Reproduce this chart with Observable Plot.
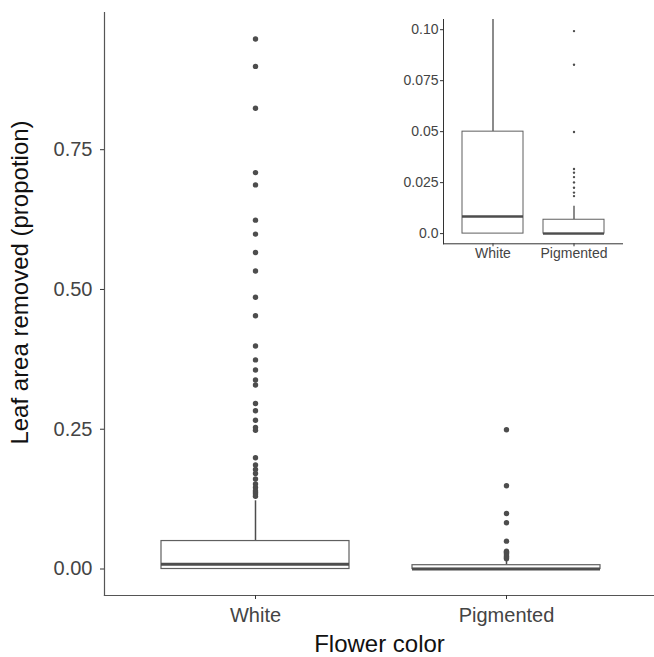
<!DOCTYPE html>
<html><head><meta charset="utf-8">
<script src="https://cdn.jsdelivr.net/npm/d3@7"></script>
<script src="https://cdn.jsdelivr.net/npm/@observablehq/plot@0.6"></script>
<style>
body{margin:0;background:#fff;}
#wrap{position:relative;width:654px;height:657px;overflow:hidden;}
#main,#inset{position:absolute;top:0;}
#main{left:0;}
#inset{left:383px;}
svg{font-family:"Liberation Sans",Arial,sans-serif;}
</style></head><body><div id="wrap"><div id="main"></div><div id="inset"></div></div>
<script>
const categories = ["White", "Pigmented"];
const q1 = [0, 0];
const median = [0.0084, 0];
const q3 = [0.050, 0.0068];
const whiskerLow = [0, 0];
const whiskerHigh = [0.122, 0.0134];
const whiteOutliers = [0.948, 0.899, 0.824, 0.709, 0.687, 0.624, 0.599, 0.566, 0.533, 0.486,
  0.453, 0.399, 0.374, 0.356, 0.338, 0.329, 0.296, 0.283, 0.266, 0.253, 0.248,
  0.199, 0.186, 0.178, 0.171, 0.161, 0.152, 0.146, 0.140, 0.137, 0.134, 0.130];
const pigmentedOutliers = [0.249, 0.149, 0.0993, 0.0828, 0.0498, 0.0317, 0.0299, 0.0277,
  0.0251, 0.0225, 0.0201, 0.0184];
const mainTicks = [0, 0.25, 0.5, 0.75];
const mainTickLabels = ["0.00", "0.25", "0.50", "0.75"];
const insetTicks = [0, 0.025, 0.05, 0.075, 0.1];
const insetTickLabels = ["0.0", "0.025", "0.05", "0.075", "0.10"];
const yTitle = "Leaf area removed (propotion)";
const xTitle = "Flower color";

const boxes = categories.map((c, i) => ({cat: c, q1: q1[i], med: median[i], q3: q3[i], lo: whiskerLow[i], hi: whiskerHigh[i]}));
const outliers = [
  ...whiteOutliers.map(v => ({cat: "White", v})),
  ...pigmentedOutliers.map(v => ({cat: "Pigmented", v}))
];
const allVals = [...whiteOutliers, ...pigmentedOutliers, ...whiskerHigh];
const vmax = d3.max(allVals), vmin = 0;
const pad = (vmax - vmin) * 0.05;

const ink = "#4d4d4d";

function boxMarks(s, clip) {
  return [
    Plot.ruleX(boxes, {x: "cat", y1: "q3", y2: "hi", stroke: ink, strokeWidth: s.whisker, clip}),
    Plot.ruleX(boxes, {x: "cat", y1: "lo", y2: "q1", stroke: ink, strokeWidth: s.whisker, clip}),
    Plot.barY(boxes, {x: "cat", y1: "q1", y2: "q3", fill: "white", stroke: "#5f5f5f", strokeWidth: s.box, clip}),
    Plot.tickY(boxes, {x: "cat", y: "med", stroke: ink, strokeWidth: s.median, clip}),
    Plot.dot(outliers, {x: "cat", y: "v", r: s.r, fill: ink, stroke: "none", clip})
  ];
}

const main = Plot.plot({
  width: 654, height: 657,
  marginLeft: 104, marginRight: 0, marginTop: 12, marginBottom: 62,
  style: {fontFamily: "Liberation Sans, Arial, sans-serif", fontSize: "20px", color: "#444", background: "transparent"},
  x: {domain: categories, range: [104, 656.6], paddingInner: 0.25, paddingOuter: 0.225},
  y: {domain: [vmin - pad, vmax + pad]},
  marks: [
    ...boxMarks({whisker: 1.5, box: 1.2, median: 3, r: 2.7}, false),
    Plot.frame({anchor: "left", stroke: "#555", strokeWidth: 1.2}),
    Plot.frame({anchor: "bottom", stroke: "#555", strokeWidth: 1.2}),
    Plot.axisY({ticks: mainTicks, tickFormat: d => mainTickLabels[mainTicks.indexOf(d)], tickSize: 4, tickPadding: 8,
      fontSize: 20, label: null, stroke: "#333", fill: "#444"}),
    Plot.axisX({tickSize: 4, tickPadding: 8, fontSize: 20, label: null, stroke: "#333", fill: "#444"}),
    Plot.text([yTitle], {text: d => d, frameAnchor: "left", rotate: -90, dx: -84, dy: -21.5,
      fontSize: 24, fill: "#111", lineAnchor: "middle", textAnchor: "middle"}),
    Plot.text([xTitle], {text: d => d, frameAnchor: "bottom", dy: 56,
      fontSize: 24, fill: "#111", lineAnchor: "bottom", textAnchor: "middle"})
  ]
});
document.getElementById("main").appendChild(main);

const inset = Plot.plot({
  width: 240, height: 266,
  marginLeft: 60, marginRight: 1, marginTop: 19, marginBottom: 22.7,
  style: {fontFamily: "Liberation Sans, Arial, sans-serif", fontSize: "14px", color: "#444", background: "transparent"},
  x: {domain: categories, range: [60.3, 239.3], paddingInner: 0.25, paddingOuter: 0.225},
  y: {domain: [-0.005, 0.105]},
  marks: [
    ...boxMarks({whisker: 1.3, box: 1, median: 2.4, r: 1.2}, true),
    Plot.frame({anchor: "left", stroke: "#333", strokeWidth: 1}),
    Plot.frame({anchor: "bottom", stroke: "#333", strokeWidth: 1}),
    Plot.axisY({ticks: insetTicks, tickFormat: d => insetTickLabels[insetTicks.indexOf(d)], tickSize: 3, tickPadding: 2,
      fontSize: 14, label: null, stroke: "#333", fill: "#444"}),
    Plot.axisX({tickSize: 3, tickPadding: 1, fontSize: 14, label: null, stroke: "#333", fill: "#444"})
  ]
});
document.getElementById("inset").appendChild(inset);
</script>
</body></html>
